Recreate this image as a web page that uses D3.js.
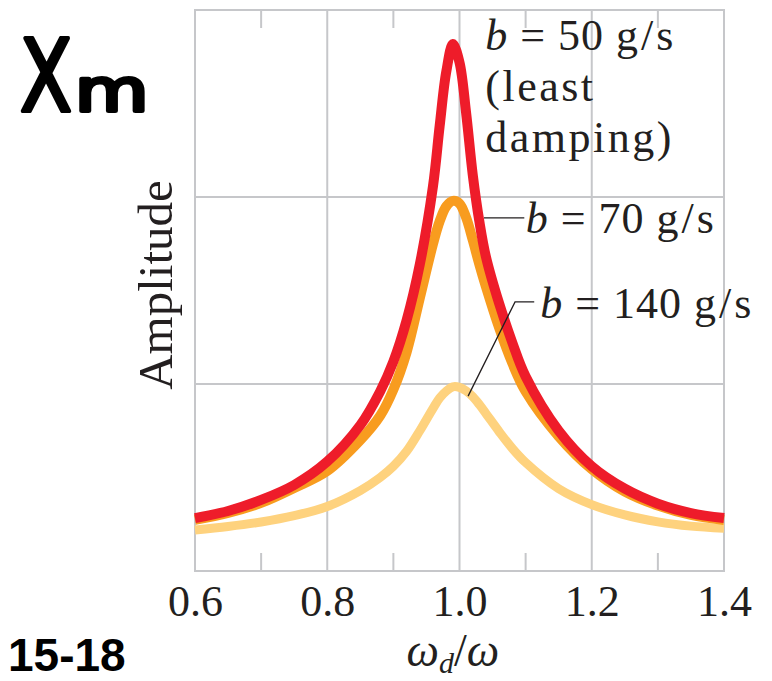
<!DOCTYPE html>
<html>
<head>
<meta charset="utf-8">
<script src="https://cdn.jsdelivr.net/npm/d3@7"></script>
<style>
  html, body { margin: 0; padding: 0; background: #fff; }
  svg { display: block; }
</style>
</head>
<body>
<div id="chart"></div>
<script>
// frequency ratio omega_d / omega (shared by all three curves)
const ratio = [0.6, 0.65, 0.7, 0.75, 0.8, 0.85, 0.88, 0.9, 0.92, 0.94, 0.96, 0.97, 0.98, 0.99,
  1.0, 1.01, 1.02, 1.03, 1.04, 1.06, 1.08, 1.1, 1.15, 1.2, 1.25, 1.3, 1.35, 1.4];

// amplitudes (one grid square = 1)
const amp50 = [0.283, 0.321, 0.38, 0.46, 0.585, 0.78, 0.96, 1.12, 1.34, 1.64, 2.06, 2.38, 2.67, 2.818,
  2.72, 2.45, 2.12, 1.87, 1.68, 1.43, 1.22, 1.04, 0.75, 0.56, 0.44, 0.36, 0.31, 0.283];
const amp70 = [0.273, 0.31, 0.364, 0.444, 0.535, 0.70, 0.83, 0.97, 1.17, 1.46, 1.75, 1.87, 1.95, 1.979,
  1.965, 1.89, 1.77, 1.64, 1.52, 1.30, 1.11, 0.96, 0.72, 0.545, 0.425, 0.35, 0.30, 0.273];
const amp140 = [0.219, 0.238, 0.262, 0.296, 0.345, 0.43, 0.50, 0.56, 0.64, 0.75, 0.87, 0.925, 0.962, 0.985,
  0.982, 0.963, 0.932, 0.89, 0.842, 0.745, 0.655, 0.58, 0.44, 0.355, 0.30, 0.263, 0.24, 0.228];

const xTicks = [0.6, 0.8, 1.0, 1.2, 1.4];
const xMinor = [0.7, 0.9, 1.1, 1.3];
const yGrid = [1, 2];

const width = 772;
const height = 681;
const margin = { top: 10, right: 48, bottom: 110, left: 195 };

const svg = d3.select("#chart")
  .append("svg")
  .attr("width", width)
  .attr("height", height);

const x = d3.scaleLinear()
  .domain([0.6, 1.4])
  .range([margin.left, width - margin.right]);

const y = d3.scaleLinear()
  .domain([0, 3])
  .range([height - margin.bottom, margin.top]);

const gridColor = "#c6c7ca";
const serif = "'Liberation Serif', 'Times New Roman', serif";
const ink = "#231f20";

// grid lines
const grid = svg.append("g").attr("stroke", gridColor).attr("stroke-width", 2);
grid.selectAll(".vgrid")
  .data(xTicks.slice(1, -1))
  .enter().append("line")
  .attr("x1", d => x(d)).attr("x2", d => x(d))
  .attr("y1", y(0)).attr("y2", y(3));
grid.selectAll(".hgrid")
  .data(yGrid)
  .enter().append("line")
  .attr("x1", x(0.6)).attr("x2", x(1.4))
  .attr("y1", d => y(d)).attr("y2", d => y(d));

// minor ticks on top and bottom
grid.selectAll(".tickBottom")
  .data(xMinor)
  .enter().append("line")
  .attr("x1", d => x(d)).attr("x2", d => x(d))
  .attr("y1", y(0)).attr("y2", y(0) - 18);
grid.selectAll(".tickTop")
  .data(xMinor)
  .enter().append("line")
  .attr("x1", d => x(d)).attr("x2", d => x(d))
  .attr("y1", y(3)).attr("y2", y(3) + 18);

// frame
grid.append("rect")
  .attr("x", x(0.6)).attr("y", y(3))
  .attr("width", x(1.4) - x(0.6))
  .attr("height", y(0) - y(3))
  .attr("fill", "none");

// bottom axis labels
svg.append("g")
  .call(d3.axisBottom(x).tickValues(xTicks).tickFormat(d3.format(".1f")).tickSize(0).tickPadding(0))
  .attr("transform", `translate(0,${y(0)})`)
  .call(g => g.select(".domain").remove())
  .selectAll("text")
  .attr("y", 45)
  .attr("dy", 0)
  .attr("fill", ink)
  .style("font-family", serif)
  .style("font-size", "44px");

// curves
const line = d3.line()
  .x((d, i) => x(ratio[i]))
  .y(d => y(d))
  .curve(d3.curveCatmullRom.alpha(0.5));

const series = [
  { values: amp140, color: "#fed27e", w: 9 },
  { values: amp70, color: "#f89c1f", w: 10 },
  { values: amp50, color: "#ee1c2a", w: 10 }
];

svg.selectAll(".curve")
  .data(series)
  .enter().append("path")
  .attr("class", "curve")
  .attr("d", d => line(d.values))
  .attr("fill", "none")
  .attr("stroke", d => d.color)
  .attr("stroke-width", d => d.w)
  .attr("stroke-linejoin", "round");

// labels
function plainText(xv, yv, str) {
  return svg.append("text")
    .attr("x", x(xv)).attr("y", y(yv))
    .attr("fill", ink)
    .style("font-family", serif)
    .style("font-size", "44px")
    .style("letter-spacing", "2.5px")
    .text(str);
}
function label(xv, yv, num) {
  const t = plainText(xv, yv, null).style("letter-spacing", "1px");
  t.append("tspan").style("font-style", "italic").text("b");
  t.append("tspan").text(" = " + num + " ");
  t.append("tspan").style("letter-spacing", "3px").text("g/");
  t.append("tspan").text("s");
  return t;
}

label(1.039, 2.786, 50);
plainText(1.039, 2.513, "(least");
plainText(1.039, 2.241, "damping)");
label(1.1, 1.807, 70);
label(1.122, 1.353, 140);

// leader lines
svg.append("line")
  .attr("x1", x(1.037)).attr("x2", x(1.098))
  .attr("y1", y(1.888)).attr("y2", y(1.888))
  .attr("stroke", ink).attr("stroke-width", 1.3);
svg.append("polyline")
  .attr("points", [[x(1.013), y(0.935)], [x(1.084), y(1.439)], [x(1.113), y(1.439)]].join(" "))
  .attr("fill", "none")
  .attr("stroke", ink).attr("stroke-width", 1.3);

// axis titles
svg.append("text")
  .attr("transform", `translate(172,285) rotate(-90)`)
  .attr("text-anchor", "middle")
  .attr("fill", ink)
  .style("font-family", serif)
  .style("font-size", "49px")
  .text("Amplitude");

const xt = svg.append("text")
  .attr("x", x(0.99)).attr("y", 666)
  .attr("text-anchor", "middle")
  .attr("fill", ink)
  .style("font-family", serif)
  .style("font-size", "46px");
xt.append("tspan").style("font-style", "italic").text("ω");
xt.append("tspan").style("font-style", "italic").style("font-size", "30px").attr("dy", 7).text("d");
xt.append("tspan").attr("dy", -7).text("/");
xt.append("tspan").style("font-style", "italic").text("ω");

// figure number
svg.append("text")
  .attr("x", 8).attr("y", 671)
  .attr("fill", "#000")
  .style("font-family", "'Liberation Sans', Arial, sans-serif")
  .style("font-weight", "bold")
  .style("font-size", "46px")
  .text("15-18");

// handwritten x_m note
const hand = { fill: "#000", stroke: "#000", family: "'DejaVu Sans', sans-serif" };
svg.append("text")
  .attr("transform", "translate(20,111) scale(0.76,1)")
  .attr("fill", hand.fill).attr("stroke", hand.stroke).attr("stroke-width", 4)
  .attr("stroke-linejoin", "round")
  .style("font-family", hand.family)
  .style("font-size", "100px")
  .text("X");
svg.append("text")
  .attr("transform", "translate(75,111) scale(1.3,1)")
  .attr("fill", hand.fill).attr("stroke", hand.stroke).attr("stroke-width", 4)
  .attr("stroke-linejoin", "round")
  .style("font-family", hand.family)
  .style("font-size", "58px")
  .text("m");
</script>
</body>
</html>
